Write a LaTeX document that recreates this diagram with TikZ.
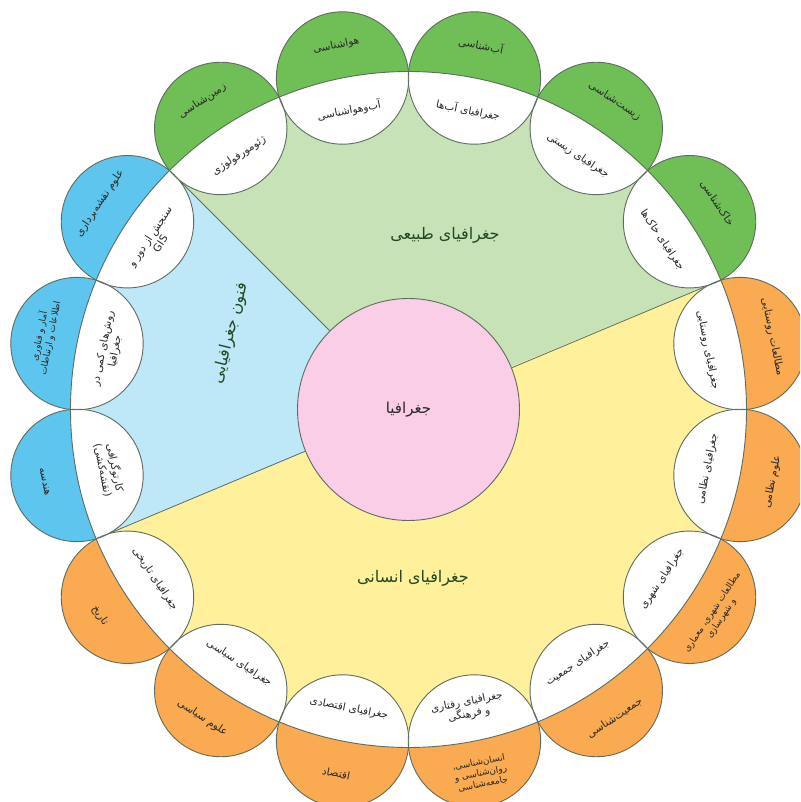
\documentclass[tikz,border=0pt]{standalone}
\usepackage{fontspec}
\newfontfamily\fa[Script=Arabic]{DejaVu Sans}
\TeXXeTstate=1
\newcommand\rl[1]{\beginR #1\endR}
\definecolor{lgreen}{RGB}{199,226,182}
\definecolor{dgreen}{RGB}{112,190,86}
\definecolor{lblue}{RGB}{190,231,248}
\definecolor{dblue}{RGB}{94,198,238}
\definecolor{lyellow}{RGB}{255,240,155}
\definecolor{dorange}{RGB}{250,170,80}
\definecolor{pinkc}{RGB}{249,206,230}
\definecolor{edgec}{RGB}{95,108,96}
\definecolor{txt}{RGB}{40,40,40}
\newcommand\petalfill[3]{% name, angle, colour
  \coordinate (#1) at (#2:338);
  \begin{scope}
    \clip (#1) circle (66.2);
    \fill[white] (#1) circle (66.2);
    \fill[#3, even odd rule] (#1) circle (70) (ctr) circle (338);
  \end{scope}}
\newcommand\petallabels[6]{% name, angle, inner, outer, inner style, outer style
  \pgfmathsetmacro\rot{ifthenelse(#2<180,#2-90,#2+90)}
  \node[#5, rotate=\rot] (#1i) at (#2:305) {#3};
  \node[#6, rotate=\rot] (#1o) at (#2:371) {#4};}
\begin{document}
\begin{tikzpicture}[x=1pt,y=1pt,
  lbl/.style={font=\fa\fontsize{10.5}{12.5}\selectfont, align=center, text=txt, inner sep=0pt},
  sml/.style={font=\fa\fontsize{9}{11}\selectfont, align=center, text=txt, inner sep=0pt},
  region/.style={font=\fa\fontsize{16}{18}\selectfont, text=txt!85!green, inner sep=0pt},
  sep/.style={draw=edgec, line width=0.8pt},
  ring/.style={draw=edgec, line width=0.9pt}]
\useasboundingbox (-408.5,-392.5) rectangle (391.5,409.5);
\clip (-408.5,-392.5) rectangle (391.5,409.5);
\fill[white] (-408.5,-392.5) rectangle (391.5,409.5);
\coordinate (ctr) at (0,0);
% sectors
\fill[lgreen] (ctr) -- (22.5:338) arc[start angle=22.5, end angle=135, radius=338] -- cycle;
\fill[lblue] (ctr) -- (135:338) arc[start angle=135, end angle=202.5, radius=338] -- cycle;
\fill[lyellow] (ctr) -- (202.5:338) arc[start angle=202.5, end angle=382.5, radius=338] -- cycle;
\coordinate (v1) at (22.5:338);
\coordinate (v2) at (135:338);
\coordinate (v3) at (202.5:338);
\node[circle, ring, fill=pinkc, minimum size=222pt, inner sep=0pt, font=\fa\fontsize{15}{17}\selectfont, text=txt] (geo) at (ctr) {\rl{جغرافیا}};
\draw[sep] (geo.22.5) -- (v1);
\draw[sep] (geo.135) -- (v2);
\draw[sep] (geo.202.5) -- (v3);
% petals
\petalfill{p1}{11.25}{dorange}
\petalfill{p2}{33.75}{dgreen}
\petalfill{p3}{56.25}{dgreen}
\petalfill{p4}{78.75}{dgreen}
\petalfill{p5}{101.25}{dgreen}
\petalfill{p6}{123.75}{dgreen}
\petalfill{p7}{146.25}{dblue}
\petalfill{p8}{168.75}{dblue}
\petalfill{p9}{191.25}{dblue}
\petalfill{p10}{213.75}{dorange}
\petalfill{p11}{236.25}{dorange}
\petalfill{p12}{258.75}{dorange}
\petalfill{p13}{281.25}{dorange}
\petalfill{p14}{303.75}{dorange}
\petalfill{p15}{326.25}{dorange}
\petalfill{p16}{348.75}{dorange}
\draw[ring] (ctr) circle (338);
\foreach \p in {p1,p2,p3,p4,p5,p6,p7,p8,p9,p10,p11,p12,p13,p14,p15,p16}
  \draw[ring] (\p) circle (66.2);
% labels
\petallabels{p1}{11.25}{\rl{جغرافیای روستایی}}{\rl{مطالعات روستایی}}{lbl}{lbl}
\petallabels{p2}{33.75}{\rl{جغرافیای خاک‌ها}}{\rl{خاک‌شناسی}}{lbl}{lbl}
\petallabels{p3}{56.25}{\rl{جغرافیای زیستی}}{\rl{زیست‌شناسی}}{lbl}{lbl}
\petallabels{p4}{78.75}{\rl{جغرافیای آب‌ها}}{\rl{آب‌شناسی}}{lbl}{lbl}
\petallabels{p5}{101.25}{\rl{آب‌وهواشناسی}}{\rl{هواشناسی}}{lbl}{lbl}
\petallabels{p6}{123.75}{\rl{ژئومورفولوژی}}{\rl{زمین‌شناسی}}{lbl}{lbl}
\petallabels{p7}{146.25}{\rl{سنجش از دور و}\\GIS}{\rl{علوم نقشه‌برداری}}{lbl}{lbl}
\petallabels{p8}{168.75}{\rl{روش‌های کمی در}\\\rl{جغرافیا}}{\rl{آمار و فناوری}\\\rl{اطلاعات و ارتباطات}}{lbl}{sml}
\petallabels{p9}{191.25}{\rl{کارتوگرافی}\\\rl{(نقشه‌کشی)}}{\rl{هندسه}}{lbl}{lbl}
\petallabels{p10}{213.75}{\rl{جغرافیای تاریخی}}{\rl{تاریخ}}{lbl}{lbl}
\petallabels{p11}{236.25}{\rl{جغرافیای سیاسی}}{\rl{علوم سیاسی}}{lbl}{lbl}
\petallabels{p12}{258.75}{\rl{جغرافیای اقتصادی}}{\rl{اقتصاد}}{lbl}{lbl}
\petallabels{p13}{281.25}{\rl{جغرافیای رفتاری}\\\rl{و فرهنگی}}{\rl{انسان‌شناسی،}\\\rl{روان‌شناسی و}\\\rl{جامعه‌شناسی}}{lbl}{sml}
\petallabels{p14}{303.75}{\rl{جغرافیای جمعیت}}{\rl{جمعیت‌شناسی}}{lbl}{lbl}
\petallabels{p15}{326.25}{\rl{جغرافیای شهری}}{\rl{مطالعات شهری، معماری}\\\rl{و شهرسازی}}{lbl}{sml}
\petallabels{p16}{348.75}{\rl{جغرافیای نظامی}}{\rl{علوم نظامی}}{lbl}{lbl}
% region titles
\node[region] (phys) at (36.5,174.5) {\rl{جغرافیای طبیعی}};
\node[region, rotate=76] (tech) at (-178,76) {\rl{فنون جغرافیایی}};
\node[region] (hum) at (4.5,-168.5) {\rl{جغرافیای انسانی}};
\end{tikzpicture}
\end{document}
